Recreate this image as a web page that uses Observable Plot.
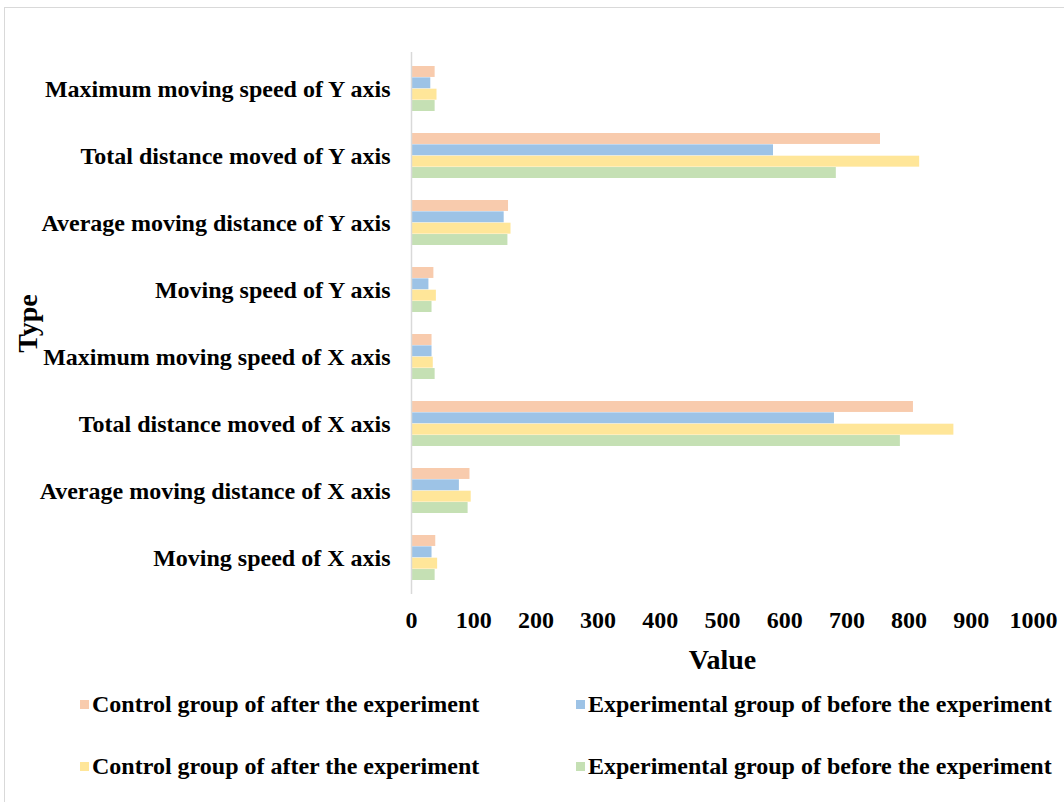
<!DOCTYPE html>
<html>
<head>
<meta charset="utf-8">
<script src="https://cdn.jsdelivr.net/npm/d3@7"></script>
<script src="https://cdn.jsdelivr.net/npm/@observablehq/plot@0.6"></script>
<style>
  html, body { margin: 0; padding: 0; background: #fff; }
  body { width: 1064px; height: 802px; position: relative; overflow: hidden; font-family: "Liberation Serif", "DejaVu Serif", serif; }
  #frame { position: absolute; left: 4px; top: 7px; width: 1080px; height: 820px; border: 1px solid #d9d9d9; box-sizing: border-box; }
  #chart { position: absolute; left: 0; top: 0; }
  .legend { position: absolute; font-weight: bold; font-size: 24px; color: #000; white-space: nowrap; line-height: 24px; }
  .legend .sw { display: inline-block; width: 9px; height: 9px; margin-right: 3px; vertical-align: 3px; }
</style>
</head>
<body>
<div id="frame"></div>
<div id="chart"></div>
<div id="legend"></div>
<script>
const categories = [
  "Moving speed of X axis",
  "Average moving distance of X axis",
  "Total distance moved of X axis",
  "Maximum moving speed of X axis",
  "Moving speed of Y axis",
  "Average moving distance of Y axis",
  "Total distance moved of Y axis",
  "Maximum moving speed of Y axis"
];
const seriesNames = [
  "Control group of after the experiment",
  "Experimental group of before the experiment",
  "Control group of after the experiment",
  "Experimental group of before the experiment"
];
const seriesColors = ["#F8CBAD", "#9DC3E6", "#FFE699", "#C5E0B4"];
const controlAfterA = [39, 94, 807, 33, 36, 156, 754, 38];
const experimentalBeforeA = [33, 77, 680, 33, 28, 149, 582, 31];
const controlAfterB = [42, 96, 872, 35, 40, 160, 817, 41];
const experimentalBeforeB = [38, 91, 786, 38, 33, 155, 683, 38];
const xTicks = [0, 100, 200, 300, 400, 500, 600, 700, 800, 900, 1000];

const seriesValues = [controlAfterA, experimentalBeforeA, controlAfterB, experimentalBeforeB];
const data = [];
seriesValues.forEach((vals, si) => {
  vals.forEach((v, ci) => data.push({series: si, category: categories[ci], value: v}));
});

const W = 1064, H = 680, mTop = 52, mBottom = 86, mLeft = 411, mRight = 31;
const padInner = 0.33;
const step = (H - mTop - mBottom) / categories.length;
const bw = step * (1 - padInner);
const sub = bw / 4;

const font = "Liberation Serif, DejaVu Serif, serif";

const barMarks = seriesValues.map((_, si) =>
  Plot.barX(data.filter(d => d.series === si), {
    x: "value", y: "category", fill: seriesColors[si],
    insetTop: si * sub, insetBottom: (3 - si) * sub
  })
);

const chart = Plot.plot({
  width: W, height: H,
  marginTop: mTop, marginBottom: mBottom, marginLeft: mLeft, marginRight: mRight,
  style: {fontFamily: font, background: "transparent", color: "#000"},
  x: {domain: [0, 1000], ticks: xTicks, label: null},
  y: {domain: categories.slice().reverse(), paddingInner: padInner, paddingOuter: padInner / 2, label: null},
  marks: [
    ...barMarks,
    Plot.ruleX([0], {stroke: "#d9d9d9", strokeWidth: 1.5}),
    Plot.axisX({ticks: xTicks, tickSize: 0, tickPadding: 16, fontSize: 24, fontWeight: "bold", label: null, tickFormat: d => String(d)}),
    Plot.axisY({tickSize: 0, tickPadding: 21, fontSize: 24, fontWeight: "bold", label: null}),
    Plot.text(["Value"], {frameAnchor: "bottom", dy: 66, lineAnchor: "middle", fontSize: 28, fontWeight: "bold", fill: "#000"}),
    Plot.text(["Type"], {frameAnchor: "left", dx: -383, textAnchor: "middle", lineAnchor: "middle", rotate: -90, fontSize: 28, fontWeight: "bold", fill: "#000"})
  ]
});
document.getElementById("chart").appendChild(chart);

const legendPos = [[80, 692], [576, 692], [80, 754], [576, 754]];
const legend = document.getElementById("legend");
seriesNames.forEach((name, i) => {
  const el = document.createElement("div");
  el.className = "legend";
  el.style.left = legendPos[i][0] + "px";
  el.style.top = legendPos[i][1] + "px";
  el.innerHTML = `<span class="sw" style="background:${seriesColors[i]}"></span>${name}`;
  legend.appendChild(el);
});
</script>
</body>
</html>
